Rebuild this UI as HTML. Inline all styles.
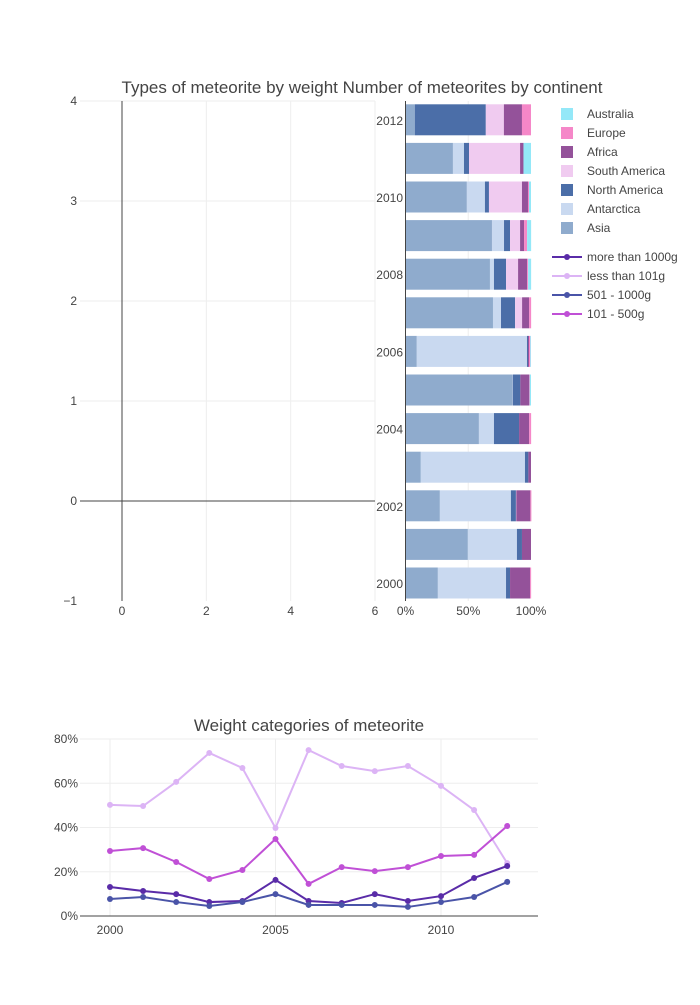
<!DOCTYPE html>
<html><head><meta charset="utf-8"><style>
body{margin:0;background:#fff;font-family:"Liberation Sans","Open Sans",sans-serif;}
svg text{font-family:"Liberation Sans",sans-serif;fill:#444;}
</style></head><body>
<svg id="c" width="700" height="1000" xmlns="http://www.w3.org/2000/svg"></svg>
<script>
const years=[2000,2001,2002,2003,2004,2005,2006,2007,2008,2009,2010,2011,2012];
const continents=["Asia","Antarctica","North America","South America","Africa","Europe","Australia"];
const asia=[25.8,49.7,27.4,12.2,58.5,85.1,9,69.7,67.3,68.9,48.9,37.8,7.4];
const antarctica=[54.3,39.1,56.6,83,12,0.3,87.8,6.4,3.2,9.6,14.4,8.8,0];
const northAmerica=[3.2,4,4,2.7,20,6.1,0.8,11.2,9.6,4.8,3.2,4,56.6];
const southAmerica=[0,0,0.3,0,0,0,0,5.6,9.6,8,26.3,40.7,14.4];
const africa=[16,7.2,11.2,2.1,8,7.2,0.8,5.6,7.2,3.2,4.8,2.7,14.4];
const europe=[0.8,0,0.8,0,1.6,0.3,1,1.6,0.8,2.4,0.8,0,7.2];
const australia=[0,0,0,0,0,1,0.6,0,2.4,3.2,1.6,6,0];
const contColors=["#8fabcd","#c9d9f0","#4b6ea8","#f0cbf0","#94529a","#f587c8","#94e8f8"];
const wYears=years;
const more1000=[13.1,11.3,9.9,6.3,6.8,16.3,6.8,5.9,9.9,6.8,9,17.2,22.6];
const less101=[50.2,49.7,60.6,73.7,66.9,39.8,75,67.8,65.5,67.8,58.8,47.9,23.9];
const w501=[7.7,8.6,6.3,4.5,6.3,9.9,5,5,5,4.1,6.3,8.6,15.4];
const w101=[29.4,30.7,24.4,16.7,20.8,34.8,14.5,22.1,20.3,22.1,27.1,27.6,40.7];
const lineNames=["more than 1000g","less than 101g","501 - 1000g","101 - 500g"];
const lineColors=["#5a2ca8","#dcb4f5","#4a54a8","#c050d6"];

const svg=document.getElementById('c');
const NS="http://www.w3.org/2000/svg";
function mk(tag,attrs,parent){const e=document.createElementNS(NS,tag);for(const k in attrs)e.setAttribute(k,attrs[k]);(parent||svg).appendChild(e);return e;}
function txt(x,y,s,size,anchor,name){const t=mk('text',{x:x,y:y,'font-size':size,'text-anchor':anchor||'middle'});t.textContent=s;


return t;}

// Titles
txt(362,93,"Types of meteorite by weight Number of meteorites by continent",17,'middle','top-title');
txt(309,731,"Weight categories of meteorite",17,'middle','bottom-title');

// Empty left plot
const ex=v=>122+v*42.17, ey=v=>501-v*100;
[2,4,6].forEach(v=>{const l=mk('line',{x1:ex(v),x2:ex(v),y1:101,y2:601,stroke:'#eee'});});
[1,2,3,4].forEach(v=>{const l=mk('line',{x1:80,x2:375,y1:ey(v),y2:ey(v),stroke:'#eee'});});
let a=mk('line',{x1:ex(0),x2:ex(0),y1:101,y2:601,stroke:'#444'});
a=mk('line',{x1:80,x2:375,y1:ey(0),y2:ey(0),stroke:'#444'});
[0,2,4,6].forEach(v=>txt(ex(v),615,String(v),12,'middle','left-x-tick'));
[-1,0,1,2,3,4].forEach(v=>txt(77,ey(v)+4,v<0?"\u22121":String(v),12,'end','left-y-tick'));

// Stacked bar chart
const bx=p=>405.5+p*1.255;
const by=yr=>583-(yr-2000)*38.6;
[50].forEach(p=>{const l=mk('line',{x1:bx(p),x2:bx(p),y1:101,y2:601,stroke:'#eee'});});
const series=[asia,antarctica,northAmerica,southAmerica,africa,europe,australia];
years.forEach((yr,i)=>{let acc=0;series.forEach((s,k)=>{const v=s[i];if(v>0){const r=mk('rect',{x:bx(acc),y:by(yr)-15.5,width:bx(acc+v)-bx(acc),height:31,fill:contColors[k]});

}acc+=v;});});
a=mk('line',{x1:405.5,x2:405.5,y1:101,y2:601,stroke:'#444'});
[2000,2002,2004,2006,2008,2010,2012].forEach(yr=>txt(403,by(yr)+5,String(yr),12,'end','bar-y-tick'));
[[0,"0%"],[50,"50%"],[100,"100%"]].forEach(([p,s])=>txt(bx(p),615,s,12,'middle','bar-x-tick'));

// Legends
const legOrder=[6,5,4,3,2,1,0];
legOrder.forEach((k,j)=>{const y=114+j*19;const r=mk('rect',{x:561,y:y-6,width:12,height:12,fill:contColors[k]});


txt(587,y+4,continents[k],12,'start','legend-entry');});
lineNames.forEach((n,k)=>{const y=257+k*19;const l=mk('line',{x1:552,x2:582,y1:y,y2:y,stroke:lineColors[k],'stroke-width':2});


mk('circle',{cx:567,cy:y,r:3,fill:lineColors[k]});
txt(587,y+4,n,12,'start','legend-entry');});

// Line chart
const lx=yr=>110+(yr-2000)*33.1;
const ly=p=>916-p*2.2125;
[2000,2005,2010].forEach(yr=>{const l=mk('line',{x1:lx(yr),x2:lx(yr),y1:739,y2:916,stroke:'#eee'});txt(lx(yr),934,String(yr),12,'middle','line-x-tick');});
[20,40,60,80].forEach(p=>{const l=mk('line',{x1:80,x2:538,y1:ly(p),y2:ly(p),stroke:'#eee'});});
[0,20,40,60,80].forEach(p=>txt(78,ly(p)+4,p+"%",12,'end','line-y-tick'));
a=mk('line',{x1:80,x2:538,y1:916,y2:916,stroke:'#444'});
const lseries=[more1000,less101,w501,w101];
[1,3,0,2].forEach(k=>{const s=lseries[k];const pts=wYears.map((yr,i)=>lx(yr)+','+ly(s[i])).join(' ');
const p=mk('polyline',{points:pts,fill:'none',stroke:lineColors[k],'stroke-width':2});


wYears.forEach((yr,i)=>{const c=mk('circle',{cx:lx(yr),cy:ly(s[i]),r:3,fill:lineColors[k]});

});});
</script>
</body></html>
